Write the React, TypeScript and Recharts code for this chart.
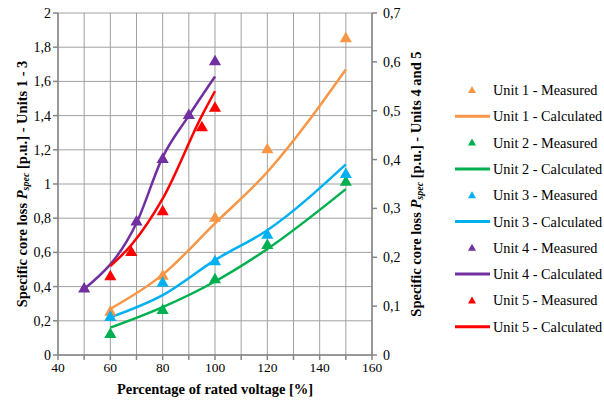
import {
  ComposedChart,
  Line,
  Scatter,
  XAxis,
  YAxis,
  CartesianGrid,
  Label,
} from "recharts";

// Units 1-3 use left axis, units 4-5 use right axis
const unit1X = [60, 80, 100, 120, 150];
const unit1Measured = [0.25, 0.46, 0.8, 1.2, 1.85];
const unit1Calculated = [0.27, 0.47, 0.77, 1.07, 1.67];

const unit2X = [60, 80, 100, 120, 150];
const unit2Measured = [0.12, 0.26, 0.44, 0.64, 1.01];
const unit2Calculated = [0.16, 0.28, 0.43, 0.62, 0.97];

const unit3X = [60, 80, 100, 120, 150];
const unit3Measured = [0.22, 0.42, 0.545, 0.7, 1.055];
const unit3Calculated = [0.22, 0.35, 0.555, 0.73, 1.115];

const unit4X = [50, 70, 80, 90, 100];
const unit4Measured = [0.135, 0.272, 0.4, 0.49, 0.6];
const unit4Calculated = [0.135, 0.27, 0.405, 0.49, 0.57];

const unit5X = [60, 68, 80, 95, 100];
const unit5Measured = [0.16, 0.21, 0.293, 0.465, 0.505];
const unit5Calculated = [0.182, 0.225, 0.32, 0.49, 0.54];

const xTicks = [40, 50, 60, 70, 80, 90, 100, 110, 120, 130, 140, 150, 160];
const leftTicks = [0, 0.2, 0.4, 0.6, 0.8, 1, 1.2, 1.4, 1.6, 1.8, 2];
const rightTicks = [0, 0.1, 0.2, 0.3, 0.4, 0.5, 0.6, 0.7];

const toPoints = (xs: number[], ys: number[]) =>
  xs.map((x, i) => ({ x, y: ys[i] }));

const series = [
  { name: "Unit 1", color: "#F79646", axis: "left", x: unit1X, m: unit1Measured, c: unit1Calculated },
  { name: "Unit 2", color: "#00B050", axis: "left", x: unit2X, m: unit2Measured, c: unit2Calculated },
  { name: "Unit 3", color: "#00B0F0", axis: "left", x: unit3X, m: unit3Measured, c: unit3Calculated },
  { name: "Unit 4", color: "#7030A0", axis: "right", x: unit4X, m: unit4Measured, c: unit4Calculated },
  { name: "Unit 5", color: "#FF0000", axis: "right", x: unit5X, m: unit5Measured, c: unit5Calculated },
];

const FONT = "'Liberation Serif', 'Times New Roman', serif";
const AXIS = "#868686";

const fmt = (v: number) => String(Math.round(v * 10) / 10).replace(".", ",");
const fmtX = (v: number) => (v % 20 === 0 ? String(v) : "");

function YTitle({ cx, cy, units }: { cx: number; cy: number; units: string }) {
  return (
    <text
      x={cx}
      y={cy}
      transform={`rotate(-90 ${cx} ${cy})`}
      textAnchor="middle"
      dominantBaseline="central"
      fontFamily={FONT}
      fontSize={14.5}
      fontWeight="bold"
      fill="#000"
    >
      Specific core loss{" "}
      <tspan fontStyle="italic">P</tspan>
      <tspan fontStyle="italic" fontSize={10} dy={3}>spec</tspan>
      <tspan dy={-3}>{"  [p.u.] - " + units}</tspan>
    </text>
  );
}

function LegendBox() {
  const rows: { label: string; color: string; kind: "m" | "c" }[] = [];
  series.forEach((s) => {
    rows.push({ label: `${s.name} - Measured`, color: s.color, kind: "m" });
    rows.push({ label: `${s.name} - Calculated`, color: s.color, kind: "c" });
  });
  return (
    <svg width={160} height={270} style={{ display: "block" }}>
      {rows.map((r, i) => {
        const y = 10 + i * 26.3;
        return (
          <g key={r.label}>
            {r.kind === "m" ? (
              <polygon
                points={`17,${y - 4} 13,${y + 3} 21,${y + 3}`}
                fill={r.color}
              />
            ) : (
              <line x1={0} x2={35} y1={y} y2={y} stroke={r.color} strokeWidth={3} />
            )}
            <text
              x={38}
              y={y}
              dominantBaseline="central"
              fontFamily={FONT}
              fontSize={14.3}
              fill="#000"
            >
              {r.label}
            </text>
          </g>
        );
      })}
    </svg>
  );
}

export default function App() {
  return (
    <div style={{ position: "absolute", left: 0, top: 0, width: 604, height: 405, background: "#fff" }}>
      <ComposedChart
        width={604}
        height={405}
        margin={{ top: 13, right: 180, bottom: 0, left: 0 }}
      >
        <CartesianGrid yAxisId="left" stroke="#a0a0a0" strokeWidth={1} />
        <XAxis
          type="number"
          dataKey="x"
          domain={[40, 160]}
          ticks={xTicks}
          tickFormatter={fmtX}
          interval={0}
          height={50}
          stroke={AXIS}
          strokeWidth={1.5}
          tick={{ fill: "#000", fontFamily: FONT, fontSize: 13.5 }}
          tickSize={5}
          allowDuplicatedCategory={false}
        >
          <Label
            content={({ viewBox }: any) => (
              <text
                x={viewBox.x + viewBox.width / 2}
                y={389}
                textAnchor="middle"
                dominantBaseline="central"
                fontFamily={FONT}
                fontSize={14.5}
                fontWeight="bold"
                fill="#000"
              >
                Percentage of rated voltage [%]
              </text>
            )}
          />
        </XAxis>
        <YAxis
          yAxisId="left"
          type="number"
          dataKey="y"
          domain={[0, 2]}
          ticks={leftTicks}
          tickFormatter={fmt}
          interval={0}
          width={58}
          stroke={AXIS}
          strokeWidth={1.5}
          tick={{ fill: "#000", fontFamily: FONT, fontSize: 14 }}
          tickSize={5}
        >
          <Label
            content={({ viewBox }: any) => (
              <YTitle cx={22} cy={viewBox.y + viewBox.height / 2} units="Units 1 - 3" />
            )}
          />
        </YAxis>
        <YAxis
          yAxisId="right"
          orientation="right"
          type="number"
          dataKey="y"
          domain={[0, 0.7]}
          ticks={rightTicks}
          tickFormatter={fmt}
          interval={0}
          width={52}
          stroke={AXIS}
          strokeWidth={1.5}
          tick={{ fill: "#000", fontFamily: FONT, fontSize: 14 }}
          tickSize={5}
          tickMargin={6}
        >
          <Label
            content={({ viewBox }: any) => (
              <YTitle cx={viewBox.x + 44} cy={viewBox.y + viewBox.height / 2} units="Units 4 and 5" />
            )}
          />
        </YAxis>
        {series.map((s) => (
          <Line
            key={s.name + "-c"}
            yAxisId={s.axis}
            data={toPoints(s.x, s.c)}
            dataKey="y"
            type="monotone"
            stroke={s.color}
            strokeWidth={2.5}
            dot={false}
            activeDot={false}
            isAnimationActive={false}
          />
        ))}
        {series.map((s) => (
          <Scatter
            key={s.name + "-m"}
            yAxisId={s.axis}
            data={toPoints(s.x, s.m)}
            dataKey="y"
            fill={s.color}
            shape="triangle"
            isAnimationActive={false}
          />
        ))}
      </ComposedChart>
      <div style={{ position: "absolute", left: 455, top: 80 }}>
        <LegendBox />
      </div>
    </div>
  );
}
